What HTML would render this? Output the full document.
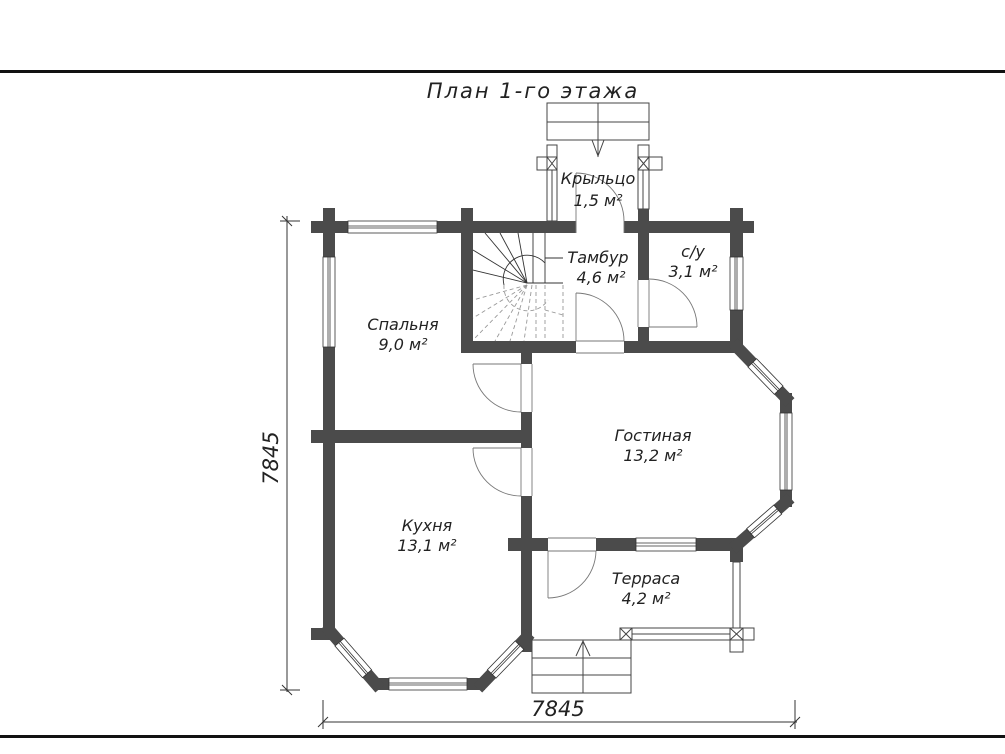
<!DOCTYPE html>
<html><head><meta charset="utf-8"><style>
html,body{margin:0;padding:0;background:#fff;}
svg{display:block;}
text{font-family:"DejaVu Sans","Liberation Sans",sans-serif;font-style:italic;fill:#222;}
</style></head><body>
<svg width="1005" height="754" viewBox="0 0 1005 754" xmlns="http://www.w3.org/2000/svg">
<rect width="1005" height="754" fill="#fff"/>
<rect x="0" y="70" width="1005" height="3" fill="#111"/>
<rect x="0" y="735" width="1005" height="3" fill="#111"/>

<text x="533" y="98" font-size="21" text-anchor="middle" letter-spacing="2">План 1-го этажа</text>

<!-- porch steps -->
<g fill="none" stroke="#444" stroke-width="1">
<rect x="547" y="103" width="102" height="37"/>
<line x1="547" y1="122" x2="649" y2="122"/>
<line x1="598" y1="103" x2="598" y2="157"/>
<polyline points="592,140 598,156 604,140"/>
<rect x="537" y="157" width="20" height="13"/><rect x="547" y="157" width="10" height="13"/>
<line x1="547" y1="157" x2="557" y2="170"/><line x1="557" y1="157" x2="547" y2="170"/>
<rect x="638" y="157" width="24" height="13"/><rect x="638" y="157" width="11" height="13"/>
<line x1="638" y1="157" x2="649" y2="170"/><line x1="649" y1="157" x2="638" y2="170"/>
<rect x="547" y="145" width="10" height="76"/><line x1="552" y1="170" x2="552" y2="221"/>
<rect x="638" y="145" width="11" height="64"/><line x1="643" y1="170" x2="643" y2="209"/>
</g>

<!-- walls -->
<g fill="#4b4b4b">
<rect x="311" y="221" width="37" height="12"/>
<rect x="437" y="221" width="139" height="12"/>
<rect x="624" y="221" width="130" height="12"/>
<rect x="323" y="208" width="12" height="49"/>
<rect x="323" y="347" width="12" height="283"/>
<rect x="461" y="208" width="12" height="145"/>
<rect x="638" y="209" width="11" height="71"/>
<rect x="638" y="327" width="11" height="26"/>
<rect x="730" y="208" width="13" height="49"/>
<rect x="730" y="310" width="13" height="43"/>
<rect x="461" y="341" width="115" height="12"/>
<rect x="624" y="341" width="119" height="12"/>
<rect x="521" y="353" width="11" height="11"/>
<rect x="521" y="412" width="11" height="36"/>
<rect x="521" y="496" width="11" height="156"/>
<rect x="311" y="430" width="221" height="13"/>
<rect x="311" y="628" width="24" height="12"/>
<rect x="508" y="538" width="40" height="13"/>
<rect x="596" y="538" width="40" height="13"/>
<rect x="696" y="538" width="47" height="13"/>
<rect x="730" y="538" width="13" height="24"/>
<rect x="780" y="393" width="12" height="114"/>
<rect x="373" y="678" width="112" height="12"/>
</g>
<g stroke="#4b4b4b" stroke-width="12" stroke-linecap="square">
<line x1="737" y1="347" x2="786" y2="398"/>
<line x1="737" y1="545" x2="786" y2="502"/>
<line x1="329" y1="630" x2="376" y2="684"/>
<line x1="482" y1="684" x2="526" y2="638"/>
</g>

<!-- windows -->
<g fill="#fff" stroke="#333" stroke-width="0.8">
<rect x="348" y="221" width="89" height="12"/><line x1="348" y1="226" x2="437" y2="226"/><line x1="348" y1="228" x2="437" y2="228"/>
<rect x="323" y="257" width="12" height="90"/><line x1="328" y1="257" x2="328" y2="347"/><line x1="330" y1="257" x2="330" y2="347"/>
<rect x="730" y="257" width="13" height="53"/><line x1="735" y1="257" x2="735" y2="310"/><line x1="737" y1="257" x2="737" y2="310"/>
<rect x="780" y="413" width="12" height="77"/><line x1="785" y1="413" x2="785" y2="490"/><line x1="787" y1="413" x2="787" y2="490"/>
<rect x="636" y="538" width="60" height="13"/><line x1="636" y1="543" x2="696" y2="543"/><line x1="636" y1="546" x2="696" y2="546"/>
<rect x="389" y="678" width="78" height="12"/><line x1="389" y1="683" x2="467" y2="683"/><line x1="389" y1="685" x2="467" y2="685"/>
<g transform="translate(737,347) rotate(46)"><rect x="22" y="-6" width="38" height="12"/><line x1="22" y1="-1" x2="60" y2="-1"/><line x1="22" y1="1" x2="60" y2="1"/></g>
<g transform="translate(737,545) rotate(-41)"><rect x="18" y="-6" width="36" height="12"/><line x1="18" y1="-1" x2="54" y2="-1"/><line x1="18" y1="1" x2="54" y2="1"/></g>
<g transform="translate(329,630) rotate(49)"><rect x="16" y="-6" width="42" height="12"/><line x1="16" y1="-1" x2="58" y2="-1"/><line x1="16" y1="1" x2="58" y2="1"/></g>
<g transform="translate(482,684) rotate(-46)"><rect x="14" y="-6" width="40" height="12"/><line x1="14" y1="-1" x2="54" y2="-1"/><line x1="14" y1="1" x2="54" y2="1"/></g>
</g>

<!-- doors -->
<g fill="none" stroke="#777" stroke-width="0.9">
<line x1="576" y1="221" x2="576" y2="233"/><line x1="624" y1="221" x2="624" y2="233"/>
<line x1="576" y1="233" x2="576" y2="173"/><path d="M576,173 A48,48 0 0 1 624,221"/>
<line x1="576" y1="341" x2="576" y2="293"/><path d="M576,293 A48,48 0 0 1 624,341"/>
<line x1="576" y1="341" x2="624" y2="341"/><line x1="576" y1="353" x2="624" y2="353"/>
<line x1="638" y1="280" x2="638" y2="327"/><line x1="649" y1="280" x2="649" y2="327"/>
<line x1="649" y1="327" x2="697" y2="327"/><path d="M649,279 A48,48 0 0 1 697,327"/>
<line x1="521" y1="364" x2="521" y2="412"/><line x1="532" y1="364" x2="532" y2="412"/>
<line x1="521" y1="364" x2="473" y2="364"/><path d="M473,364 A48,48 0 0 0 521,412"/>
<line x1="521" y1="448" x2="521" y2="496"/><line x1="532" y1="448" x2="532" y2="496"/>
<line x1="521" y1="448" x2="473" y2="448"/><path d="M473,448 A48,48 0 0 0 521,496"/>
<line x1="548" y1="538" x2="596" y2="538"/><line x1="548" y1="551" x2="596" y2="551"/>
<line x1="548" y1="551" x2="548" y2="598"/><path d="M548,598 A48,48 0 0 0 596,551"/>
</g>

<!-- stairs -->
<g fill="none" stroke="#333" stroke-width="0.9">
<line x1="545" y1="233" x2="545" y2="283"/>
<line x1="545" y1="258" x2="563" y2="258"/>
<line x1="527" y1="283" x2="563" y2="283"/>
<line x1="527" y1="283" x2="473" y2="250"/>
<line x1="527" y1="283" x2="473" y2="270"/>
<line x1="527" y1="283" x2="485" y2="233"/>
<line x1="527" y1="283" x2="500" y2="233"/>
<line x1="527" y1="283" x2="518" y2="233"/>
<line x1="533" y1="233" x2="533" y2="283"/>
<path d="M504,285 A24,24 0 0 1 545,263"/>
</g>
<g fill="none" stroke="#999" stroke-width="0.9" stroke-dasharray="4,3">
<line x1="527" y1="285" x2="473" y2="300"/>
<line x1="527" y1="285" x2="473" y2="318"/>
<line x1="527" y1="285" x2="475" y2="338"/>
<line x1="527" y1="285" x2="495" y2="341"/>
<line x1="527" y1="285" x2="510" y2="341"/>
<line x1="532" y1="285" x2="524" y2="341"/>
<line x1="536" y1="285" x2="536" y2="341"/>
<line x1="545" y1="285" x2="545" y2="341"/>
<line x1="563" y1="285" x2="563" y2="341"/>
<line x1="545" y1="310" x2="563" y2="315"/>
<path d="M504,285 A24,24 0 0 0 548,300"/>
</g>

<!-- terrace railing & steps -->
<g fill="none" stroke="#444" stroke-width="1">
<rect x="632" y="628" width="98" height="12"/><line x1="632" y1="634" x2="730" y2="634"/>
<rect x="620" y="628" width="12" height="12"/><line x1="620" y1="628" x2="632" y2="640"/><line x1="632" y1="628" x2="620" y2="640"/>
<rect x="730" y="628" width="24" height="12"/><rect x="730" y="628" width="13" height="24"/>
<line x1="730" y1="628" x2="743" y2="640"/><line x1="743" y1="628" x2="730" y2="640"/>
<rect x="733" y="562" width="7" height="66"/>
<rect x="532" y="640" width="99" height="53"/>
<line x1="532" y1="658" x2="631" y2="658"/><line x1="532" y1="675" x2="631" y2="675"/>
<line x1="583" y1="640" x2="583" y2="693"/>
<polyline points="576,656 583,641 590,656"/>
</g>

<!-- dimensions -->
<g stroke="#333" stroke-width="1" fill="none">
<line x1="323" y1="722" x2="797" y2="722"/>
<line x1="323" y1="700" x2="323" y2="729"/><line x1="795" y1="700" x2="795" y2="729"/>
<line x1="318" y1="727" x2="328" y2="717"/><line x1="790" y1="727" x2="800" y2="717"/>
<line x1="287" y1="216" x2="287" y2="692"/>
<line x1="280" y1="221" x2="300" y2="221"/><line x1="280" y1="690" x2="300" y2="690"/>
<line x1="282" y1="216" x2="292" y2="226"/><line x1="282" y1="685" x2="292" y2="695"/>
</g>
<text x="558" y="716" font-size="21" text-anchor="middle">7845</text>
<text transform="translate(278,458) rotate(-90)" font-size="21" text-anchor="middle">7845</text>

<!-- labels -->
<g font-size="16" text-anchor="middle">
<text x="598" y="184">Крыльцо</text><text x="598" y="206">1,5 м²</text>
<text x="598" y="263">Тамбур</text><text x="601" y="283">4,6 м²</text>
<text x="693" y="257">с/у</text><text x="693" y="277">3,1 м²</text>
<text x="403" y="330">Спальня</text><text x="403" y="350">9,0 м²</text>
<text x="653" y="441">Гостиная</text><text x="653" y="461">13,2 м²</text>
<text x="427" y="531">Кухня</text><text x="427" y="551">13,1 м²</text>
<text x="646" y="584">Терраса</text><text x="646" y="604">4,2 м²</text>
</g>
</svg>
</body></html>
